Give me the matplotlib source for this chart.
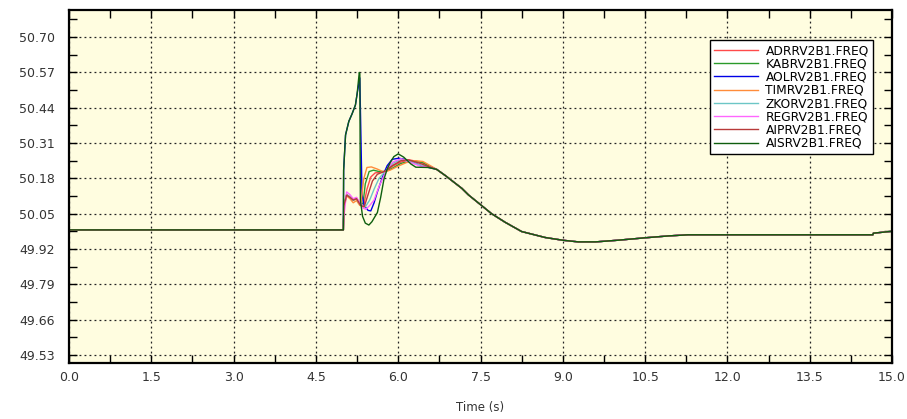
import numpy as np
import matplotlib
matplotlib.use('Agg')
import matplotlib.pyplot as plt
from matplotlib.ticker import MultipleLocator

# steady state before the event, shared by every bus
t_pre = [0.0, 5.0]
v_pre = [49.99, 49.99]

# common recovery after the oscillation dies out
t_tail = [6.70, 6.86, 7.00, 7.16, 7.28, 7.50, 7.70, 7.95, 8.25, 8.68, 9.00, 9.28, 9.60,
          10.00, 10.50, 10.93, 11.28, 14.65, 14.66, 15.00]
v_tail = [50.213, 50.19, 50.168, 50.143, 50.119, 50.083, 50.05, 50.018, 49.984, 49.962, 49.952,
          49.946, 49.946, 49.952, 49.961, 49.968, 49.972, 49.972, 49.978, 49.985]

names = ['ADRRV2B1.FREQ', 'KABRV2B1.FREQ', 'AOLRV2B1.FREQ', 'TIMRV2B1.FREQ',
         'ZKORV2B1.FREQ', 'REGRV2B1.FREQ', 'AIPRV2B1.FREQ', 'AISRV2B1.FREQ']
colors = ['#ff4a4a', '#2a9a2a', '#0000e6', '#ff8c3a', '#6cc6c6', '#ff66ff', '#b83a3a', '#0e5e0e']

# transient part of each series (5.0 s .. 6.6 s)
t_adrr = [5.01, 5.06, 5.12, 5.18, 5.24, 5.30, 5.32, 5.37, 5.43, 5.50, 5.58, 5.68, 5.77, 5.90, 6.05, 6.20, 6.40, 6.60]
v_adrr = [50.08, 50.12, 50.112, 50.10, 50.108, 50.085, 50.08, 50.08, 50.14, 50.185, 50.20, 50.203, 50.207,
          50.225, 50.24, 50.248, 50.24, 50.222]

t_kabr = [5.01, 5.06, 5.12, 5.18, 5.24, 5.30, 5.32, 5.36, 5.40, 5.47, 5.55, 5.65, 5.77, 5.90, 6.05, 6.25, 6.45, 6.60]
v_kabr = [50.08, 50.12, 50.11, 50.10, 50.105, 50.085, 50.08, 50.09, 50.16, 50.205, 50.21, 50.205, 50.205,
          50.218, 50.235, 50.245, 50.238, 50.222]

t_aolr = [5.005, 5.04, 5.10, 5.16, 5.22, 5.25, 5.30, 5.34, 5.38, 5.45, 5.50, 5.56, 5.62, 5.68, 5.74, 5.80,
          5.89, 6.01, 6.12, 6.22, 6.41, 6.55]
v_aolr = [50.21, 50.34, 50.39, 50.418, 50.45, 50.49, 50.55, 50.12, 50.08, 50.062, 50.06, 50.09, 50.13,
          50.165, 50.20, 50.227, 50.25, 50.254, 50.25, 50.243, 50.227, 50.22]

t_timr = [5.01, 5.06, 5.12, 5.18, 5.24, 5.30, 5.32, 5.37, 5.43, 5.51, 5.62, 5.74, 5.85, 6.00, 6.15, 6.30, 6.45, 6.60]
v_timr = [50.07, 50.115, 50.105, 50.09, 50.098, 50.08, 50.085, 50.177, 50.22, 50.222, 50.214, 50.203, 50.21,
          50.225, 50.238, 50.245, 50.242, 50.225]

t_zkor = [5.01, 5.06, 5.12, 5.18, 5.24, 5.30, 5.32, 5.40, 5.48, 5.56, 5.65, 5.77, 5.90, 6.05, 6.15, 6.35, 6.60]
v_zkor = [50.08, 50.12, 50.112, 50.10, 50.106, 50.085, 50.08, 50.075, 50.10, 50.14, 50.18, 50.207, 50.235,
          50.25, 50.248, 50.232, 50.22]

t_regr = [5.01, 5.06, 5.12, 5.18, 5.24, 5.30, 5.32, 5.36, 5.41, 5.48, 5.56, 5.65, 5.74, 5.80, 5.90, 6.05,
          6.20, 6.40, 6.60]
v_regr = [50.04, 50.13, 50.12, 50.105, 50.11, 50.09, 50.09, 50.07, 50.066, 50.08, 50.10, 50.15, 50.19,
          50.215, 50.24, 50.252, 50.24, 50.225, 50.22]

t_aipr = [5.01, 5.06, 5.12, 5.18, 5.24, 5.30, 5.32, 5.38, 5.45, 5.53, 5.62, 5.77, 5.90, 6.05, 6.18, 6.40, 6.60]
v_aipr = [50.08, 50.118, 50.11, 50.10, 50.105, 50.085, 50.08, 50.075, 50.12, 50.17, 50.195, 50.207, 50.228,
          50.245, 50.248, 50.235, 50.22]

t_aisr = [5.005, 5.04, 5.10, 5.16, 5.22, 5.25, 5.29, 5.30, 5.31, 5.35, 5.40, 5.465, 5.52, 5.62, 5.68, 5.74,
          5.80, 5.86, 5.92, 6.00, 6.10, 6.23, 6.32, 6.55]
v_aisr = [50.21, 50.34, 50.39, 50.418, 50.45, 50.49, 50.57, 50.565, 50.10, 50.04, 50.015, 50.008, 50.02,
          50.054, 50.11, 50.177, 50.215, 50.24, 50.26, 50.27, 50.258, 50.233, 50.221, 50.22]

transients = [(t_adrr, v_adrr), (t_kabr, v_kabr), (t_aolr, v_aolr), (t_timr, v_timr),
              (t_zkor, v_zkor), (t_regr, v_regr), (t_aipr, v_aipr), (t_aisr, v_aisr)]

y_ticks = [49.53, 49.66, 49.79, 49.92, 50.05, 50.18, 50.31, 50.44, 50.57, 50.70]
x_ticks = [0.0, 1.5, 3.0, 4.5, 6.0, 7.5, 9.0, 10.5, 12.0, 13.5, 15.0]


def main():
    fig = plt.figure(figsize=(9.07, 4.19), dpi=100)
    ax = fig.add_axes([0.0761, 0.1337, 0.9074, 0.8425])
    ax.set_facecolor('#fffde0')

    for (t, v), name, c in zip(transients, names, colors):
        tt = t_pre + t + t_tail
        vv = v_pre + v + v_tail
        ax.plot(tt, vv, color=c, lw=1.0, label=name)

    ax.set_xlim(0, 15)
    ax.set_ylim(49.50, 50.80)
    ax.set_xticks(x_ticks)
    ax.set_xticklabels(['%.1f' % x for x in x_ticks])
    ax.set_yticks(y_ticks)
    ax.set_yticklabels(['%.2f' % y for y in y_ticks])
    ax.xaxis.set_minor_locator(MultipleLocator(0.75))
    ax.yaxis.set_minor_locator(MultipleLocator(0.065))

    ax.grid(True, which='major', color='#222222', lw=0.9, linestyle=(0, (1.5, 2.5)))
    ax.tick_params(which='both', direction='in', top=True, right=True, length=6, width=1,
                   labelsize=9, labelcolor='#333333')
    ax.tick_params(axis='y', pad=10)
    ax.tick_params(axis='x', pad=6)
    for s in ax.spines.values():
        s.set_linewidth(1.6)
        s.set_color('black')

    ax.set_xlabel('Time (s)', fontsize=8.5, color='#333333', labelpad=12)

    leg = ax.legend(loc='upper right', bbox_to_anchor=(0.977, 0.915), borderaxespad=0,
                    prop={'size': 8.8}, handlelength=3.6, labelspacing=0.02, borderpad=0.35,
                    fancybox=False, framealpha=1.0, edgecolor='black', handletextpad=0.6)
    leg.get_frame().set_linewidth(1.0)

    fig.savefig('out.png', dpi=100)


if __name__ == "__main__":
    main()
